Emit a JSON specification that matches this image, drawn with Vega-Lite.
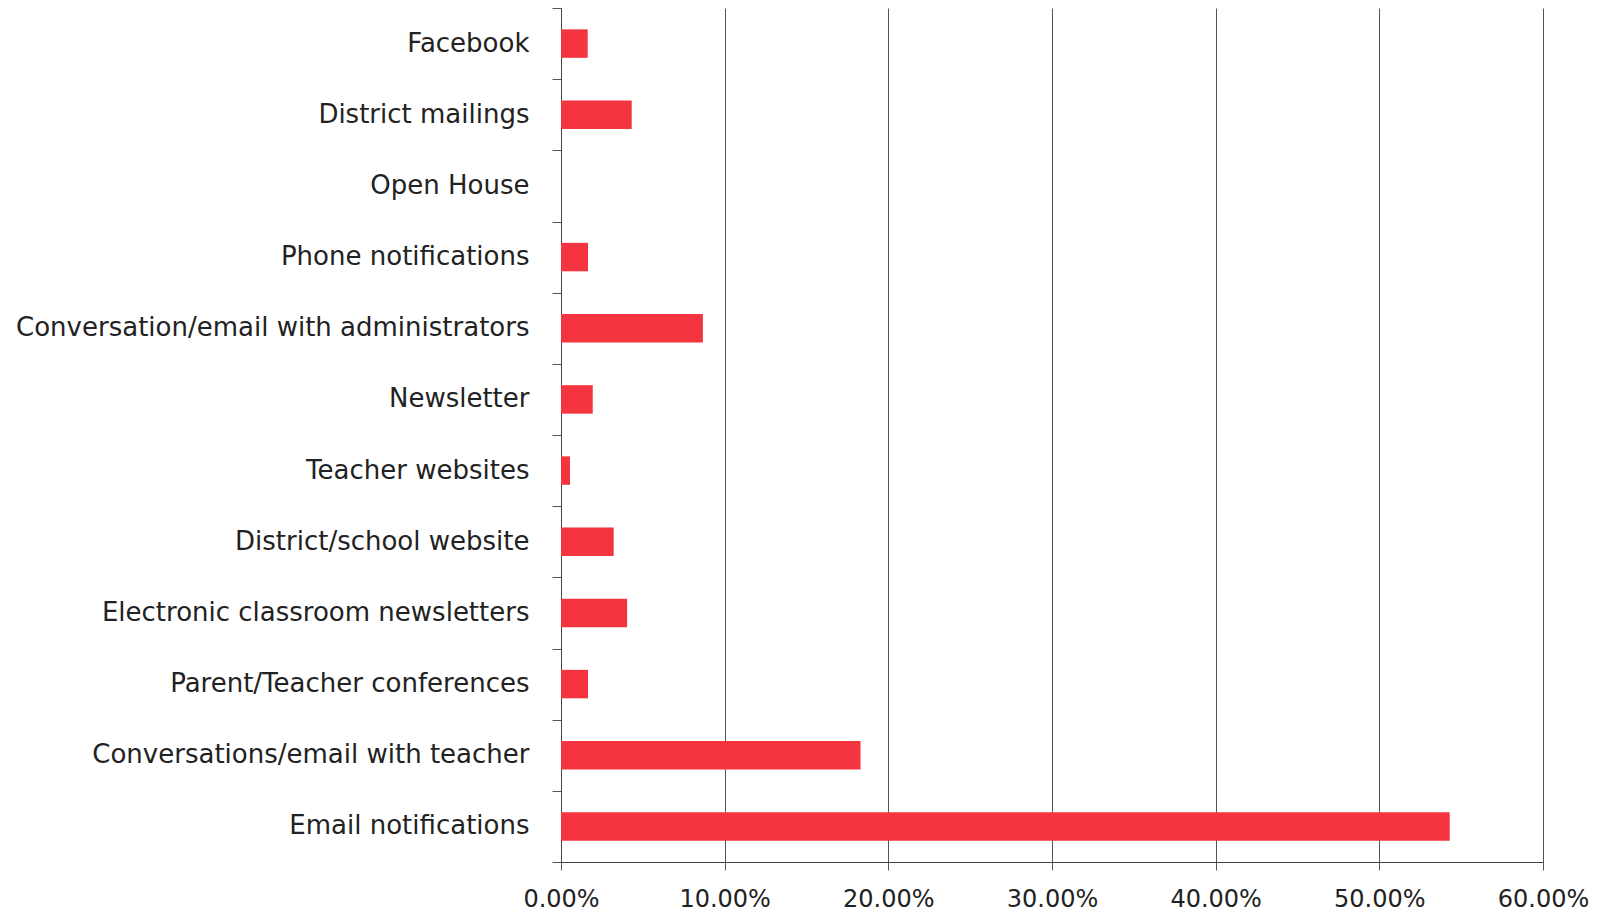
{
  "$schema": "https://vega.github.io/schema/vega-lite/v6.json",
  "autosize": "none",
  "padding": {"left": 561, "top": 8, "right": 61, "bottom": 53},
  "width": 982,
  "height": 854,
  "background": "white",
  "config": {"view": {"stroke": null}},
  "data": {"values": [
    {"source": "Facebook", "pct": 0.0163},
    {"source": "District mailings", "pct": 0.0432},
    {"source": "Open House", "pct": 0.0},
    {"source": "Phone notifications", "pct": 0.0165},
    {"source": "Conversation/email with administrators", "pct": 0.0867},
    {"source": "Newsletter", "pct": 0.0194},
    {"source": "Teacher websites", "pct": 0.0055},
    {"source": "District/school website", "pct": 0.0322},
    {"source": "Electronic classroom newsletters", "pct": 0.0404},
    {"source": "Parent/Teacher conferences", "pct": 0.0165},
    {"source": "Conversations/email with teacher", "pct": 0.183},
    {"source": "Email notifications", "pct": 0.543}
  ]},
  "resolve": {"scale": {"y": "independent"}, "axis": {"y": "independent"}},
  "layer": [
    {
      "mark": {"type": "bar", "opacity": 0},
      "encoding": {
        "y": {"field": "source", "type": "nominal", "sort": null,
          "scale": {"paddingInner": 0, "paddingOuter": 0},
          "axis": {"orient": "left", "title": null, "labels": false, "ticks": true, "tickBand": "extent", "tickSize": 9, "tickColor": "#555", "domain": true, "domainColor": "#444", "grid": false}},
        "x": {"field": "pct", "type": "quantitative",
          "scale": {"domain": [0, 0.6]},
          "axis": {"title": null, "format": ".2%", "values": [0, 0.1, 0.2, 0.3, 0.4, 0.5, 0.6],
            "grid": true, "gridColor": "#555", "gridWidth": 1, "tickSize": 8, "tickColor": "#555", "labelFlush": false,
            "domainColor": "#444", "labelFont": "DejaVu Sans", "labelFontSize": 24, "labelColor": "#222", "labelPadding": 17}}
      }
    },
    {
      "mark": {"type": "bar", "color": "#f4343e"},
      "encoding": {
        "y": {"field": "source", "type": "nominal", "sort": null,
          "scale": {"paddingInner": 0.6, "paddingOuter": 0.3},
          "axis": {"orient": "left", "title": null, "ticks": false, "domain": false, "grid": false,
            "labelFont": "DejaVu Sans", "labelFontSize": 26, "labelColor": "#222", "labelPadding": 32, "labelLimit": 700}},
        "x": {"field": "pct", "type": "quantitative"}
      }
    }
  ]
}
